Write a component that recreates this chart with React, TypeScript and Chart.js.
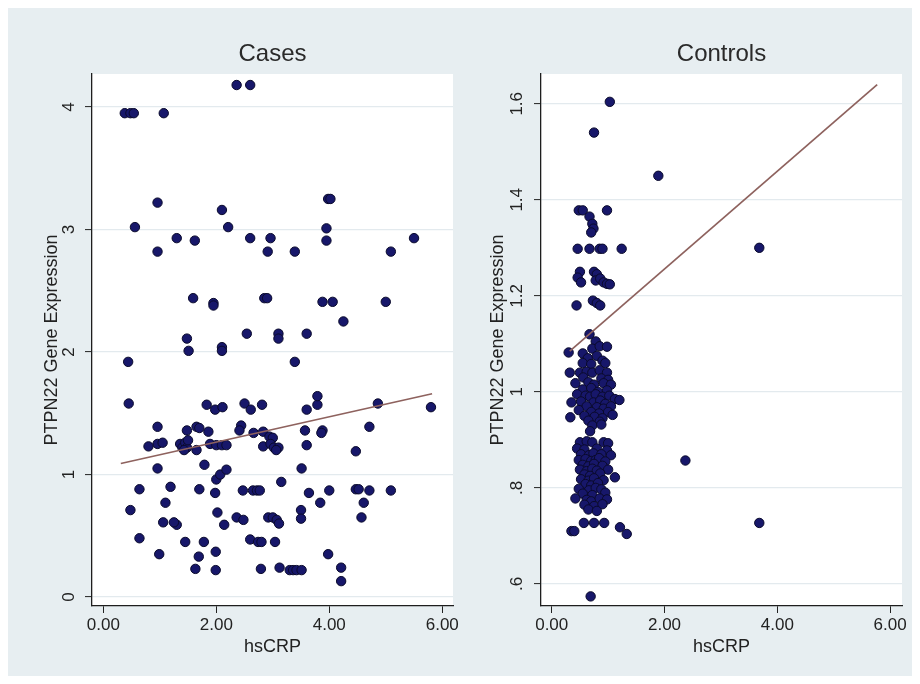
import React, { useEffect, useRef } from "react";
import { Chart, registerables } from "chart.js";

Chart.register(...registerables);

const FONT = "'Liberation Sans', Arial, Helvetica, sans-serif";

// ---------- DATA ----------
const xTickValues = [0, 2, 4, 6];
const casesYTicks = [0, 1, 2, 3, 4];
const controlsYTicks = [0.6, 0.8, 1.0, 1.2, 1.4, 1.6];

const casesX = [
  2.36, 2.6,
  0.38, 0.48, 0.54, 1.07,
  0.96, 0.56, 2.1, 2.21, 1.3, 1.62, 2.6, 2.96, 0.96, 2.91, 3.39,
  3.98, 4.02, 3.95, 3.95, 5.5, 5.09,
  1.59, 1.95, 1.95, 2.85, 2.9, 3.88, 4.06, 5.0, 4.25,
  1.48, 1.51, 2.1, 2.1, 2.54, 3.1, 3.1, 3.6,
  0.44, 3.39,
  0.45, 1.83, 1.98, 2.11, 2.5, 2.61, 2.81, 3.6, 3.79, 3.79, 4.86, 5.8,
  0.96, 1.48, 1.65, 1.7, 1.86, 2.44, 2.41, 2.66, 2.83, 2.94, 3.0, 3.57, 3.88, 3.86, 4.71,
  0.96, 1.05, 0.8, 1.36, 1.4, 1.45, 1.48, 1.5, 1.43, 1.65, 1.89, 2.0, 2.1, 2.18, 2.83, 2.96, 3.02, 3.1, 3.06, 3.6, 4.47,
  0.96, 1.79, 2.0, 2.07, 2.18, 3.51,
  0.64, 1.19, 1.7, 1.98, 2.47, 2.65, 2.72, 2.77, 3.15, 3.64, 4.0, 4.47, 4.52, 4.71, 5.09,
  3.84, 4.61, 0.48, 1.1, 3.5, 3.5, 4.57, 2.02,
  1.06, 1.3, 1.25, 2.14, 2.36, 2.48, 2.92, 3.0, 3.07, 3.11,
  0.64, 1.45, 1.78, 2.6, 2.74, 2.8, 3.04,
  0.99, 1.69, 1.99, 3.98,
  1.63, 1.99, 2.79, 3.12, 3.3, 3.36, 3.42, 3.51, 4.21, 4.21,
];
const casesY = [
  4.18, 4.18,
  3.95, 3.95, 3.95, 3.95,
  3.22, 3.02, 3.16, 3.02, 2.93, 2.91, 2.93, 2.93, 2.82, 2.82, 2.82,
  3.25, 3.25, 3.01, 2.91, 2.93, 2.82,
  2.44, 2.4, 2.38, 2.44, 2.44, 2.41, 2.41, 2.41, 2.25,
  2.11, 2.01, 2.04, 2.01, 2.15, 2.15, 2.11, 2.15,
  1.92, 1.92,
  1.58, 1.57, 1.53, 1.55, 1.58, 1.53, 1.57, 1.53, 1.57, 1.64, 1.58, 1.55,
  1.39, 1.36, 1.39, 1.38, 1.35, 1.4, 1.36, 1.34, 1.35, 1.31, 1.3, 1.36, 1.36, 1.34, 1.39,
  1.25, 1.26, 1.23, 1.25, 1.22, 1.26, 1.22, 1.28, 1.2, 1.2, 1.25, 1.24, 1.24, 1.24, 1.23, 1.25, 1.22, 1.22, 1.2, 1.24, 1.19,
  1.05, 1.08, 0.96, 1.0, 1.04, 1.05,
  0.88, 0.9, 0.88, 0.85, 0.87, 0.87, 0.87, 0.87, 0.94, 0.85, 0.87, 0.88, 0.88, 0.87, 0.87,
  0.77, 0.77, 0.71, 0.77, 0.71, 0.64, 0.65, 0.69,
  0.61, 0.59, 0.61, 0.59, 0.65, 0.63, 0.65, 0.65, 0.63, 0.6,
  0.48, 0.45, 0.45, 0.47, 0.45, 0.45, 0.45,
  0.35, 0.33, 0.37, 0.35,
  0.23, 0.22, 0.23, 0.24, 0.22, 0.22, 0.22, 0.22, 0.24, 0.13,
];

const controlsX = [
  1.03, 0.75, 1.89, 3.68, 2.37, 3.68, 0.69,
  0.48, 0.55, 0.98,
  0.67, 0.72, 0.74, 0.7,
  0.46, 0.67, 0.85, 0.9, 1.24,
  0.5, 0.46, 0.52, 0.75, 0.8, 0.78, 0.86, 0.92, 0.98, 1.03,
  0.44, 0.73, 0.8, 0.86,
  0.67, 0.78, 0.72, 0.85, 0.98,
  0.3, 0.55, 0.64, 0.8, 0.9,
  0.55, 0.7, 0.95,
  0.32, 0.5, 0.62, 0.72, 0.85, 0.98,
  0.56, 0.88, 1.0,
  0.42, 0.65, 0.75, 0.92, 1.05,
  0.55, 0.7, 0.82, 0.98,
  0.45, 0.6, 0.68, 0.78, 0.9, 1.02, 1.12,
  0.52, 0.74, 0.86, 0.95,
  0.35, 0.62, 0.8, 0.92, 1.05, 1.2,
  0.48, 0.7, 0.84, 1.0,
  0.58, 0.76, 0.9, 1.08,
  0.33, 0.65, 0.85,
  0.72, 0.88,
  0.68,
  0.5, 0.62, 0.72, 0.92, 1.0,
  0.45, 0.58, 0.8, 0.98,
  0.52, 0.66, 0.74, 0.88, 1.05,
  0.48, 0.6, 0.7, 0.78, 0.84, 0.95,
  0.55, 0.65, 0.75, 0.9,
  0.5, 0.62, 0.72, 0.8, 1.0,
  0.58, 0.68, 0.86,
  0.52, 0.65, 0.75, 0.92, 1.12,
  0.6, 0.7, 0.82,
  0.48, 0.66, 0.78, 0.88,
  0.55, 0.72, 0.95,
  0.42, 0.62, 0.7, 0.85, 0.98,
  0.58, 0.75, 0.9,
  0.65, 0.8,
  0.57, 0.75, 0.93,
  0.35, 0.4,
  1.21, 1.33,
];
const controlsY = [
  1.604, 1.54, 1.45, 1.3, 0.857, 0.727, 0.574,
  1.378, 1.378, 1.378,
  1.365, 1.35, 1.34, 1.332,
  1.298, 1.298, 1.298, 1.298, 1.298,
  1.25, 1.238, 1.228, 1.25, 1.245, 1.232, 1.236, 1.228, 1.225, 1.224,
  1.18, 1.19, 1.185, 1.18,
  1.12, 1.105, 1.09, 1.095, 1.094,
  1.082, 1.08, 1.07, 1.075, 1.065,
  1.06, 1.058, 1.06,
  1.04, 1.04, 1.042, 1.04, 1.045, 1.04,
  1.03, 1.028, 1.025,
  1.018, 1.02, 1.015, 1.018, 1.015,
  1.005, 1.008, 1.0, 1.003,
  0.995, 0.992, 0.99, 0.995, 0.99, 0.992, 0.985,
  0.98, 0.978, 0.982, 0.975,
  0.978, 0.97, 0.968, 0.965, 0.97, 0.983,
  0.962, 0.958, 0.955, 0.958,
  0.95, 0.948, 0.945, 0.952,
  0.947, 0.94, 0.938,
  0.93, 0.932,
  0.918,
  0.895, 0.897, 0.895, 0.895, 0.893,
  0.882, 0.88, 0.882, 0.878,
  0.87, 0.868, 0.872, 0.87, 0.868,
  0.858, 0.86, 0.856, 0.858, 0.862, 0.855,
  0.848, 0.845, 0.85, 0.846,
  0.838, 0.835, 0.84, 0.836, 0.838,
  0.828, 0.825, 0.83,
  0.818, 0.815, 0.82, 0.816, 0.822,
  0.808, 0.805, 0.81,
  0.798, 0.795, 0.8, 0.797,
  0.788, 0.785, 0.79,
  0.778, 0.775, 0.772, 0.778, 0.776,
  0.765, 0.762, 0.766,
  0.755, 0.752,
  0.727, 0.727, 0.727,
  0.71, 0.71,
  0.718, 0.704,
];

const casesFitX = [0.31, 5.82];
const casesFitY = [1.09, 1.66];
const controlsFitX = [0.32, 5.77];
const controlsFitY = [1.085, 1.64];

// ---------- RENDERING ----------
const decoPlugin = {
  id: "panelDeco",
  beforeDraw(chart: any, _args: any, opts: any) {
    const { ctx, chartArea: a } = chart;
    ctx.save();
    ctx.fillStyle = "#ffffff";
    ctx.fillRect(a.left, a.top, a.right - a.left, a.bottom - a.top);
    ctx.restore();
  },
  afterDraw(chart: any, _args: any, opts: any) {
    const { ctx, chartArea: a } = chart;
    ctx.save();
    ctx.font = `24px ${FONT}`;
    ctx.fillStyle = "#2a2a2a";
    ctx.textAlign = "center";
    ctx.textBaseline = "middle";
    ctx.fillText(opts.text, (a.left + a.right) / 2, opts.y);
    ctx.restore();
  },
};

type PanelProps = {
  title: string;
  xs: number[];
  ys: number[];
  fitX: number[];
  fitY: number[];
  xMin: number;
  xMax: number;
  yMin: number;
  yMax: number;
  yTicks: number[];
  yFormat: (v: number) => string;
  yWidth: number;
  yTickPad: number;
  yTitlePad: number;
  padRight: number;
};

function Panel(p: PanelProps) {
  const ref = useRef<HTMLCanvasElement | null>(null);
  useEffect(() => {
    if (!ref.current) return;
    const textColor = "#222222";
    const chart = new Chart(ref.current, {
      type: "scatter",
      data: {
        datasets: [
          {
            data: p.fitX.map((x, i) => ({ x, y: p.fitY[i] })),
            showLine: true,
            borderColor: "#8e625e",
            borderWidth: 1.7,
            pointRadius: 0,
            fill: false,
          } as any,
          {
            data: p.xs.map((x, i) => ({ x, y: p.ys[i] })),
            pointRadius: 4.7,
            pointHoverRadius: 4.7,
            backgroundColor: "#17176a",
            borderColor: "#0a0a2c",
            borderWidth: 1,
          },
        ],
      },
      options: {
        animation: false,
        responsive: false,
        devicePixelRatio: 1,
        layout: { padding: { left: 0, right: p.padRight, top: 66, bottom: 0 } },
        plugins: {
          legend: { display: false },
          tooltip: { enabled: false },
          panelDeco: { text: p.title, y: 46 },
        } as any,
        scales: {
          x: {
            type: "linear",
            min: p.xMin,
            max: p.xMax,
            afterBuildTicks: (s: any) => {
              s.ticks = xTickValues.map((v) => ({ value: v }));
            },
            afterFit: (s: any) => {
              s.height = 70;
              s.paddingLeft = 0;
              s.paddingRight = 0;
            },
            grid: {
              drawOnChartArea: false,
              drawTicks: true,
              tickLength: 7,
              tickColor: textColor,
              tickWidth: 1,
            },
            border: { display: true, color: "#1e1e1e", width: 1.3 },
            ticks: {
              autoSkip: false,
              maxRotation: 0,
              minRotation: 0,
              padding: 2,
              color: textColor,
              font: { family: FONT, size: 17 },
              callback: (v: any) => Number(v).toFixed(2),
            },
            title: {
              display: true,
              text: "hsCRP",
              color: textColor,
              font: { family: FONT, size: 18 },
              padding: { top: 0, bottom: 18.5 },
            },
          },
          y: {
            type: "linear",
            min: p.yMin,
            max: p.yMax,
            afterBuildTicks: (s: any) => {
              s.ticks = p.yTicks.map((v) => ({ value: v }));
            },
            afterFit: (s: any) => {
              s.width = p.yWidth;
              s.paddingTop = 0;
              s.paddingBottom = 0;
            },
            grid: {
              color: "#e3eaee",
              lineWidth: 1.2,
              drawTicks: true,
              tickLength: 7,
              tickColor: textColor,
              tickWidth: 1,
            },
            border: { display: true, color: "#1e1e1e", width: 1.3 },
            ticks: {
              autoSkip: false,
              minRotation: 90,
              maxRotation: 90,
              crossAlign: "center",
              padding: p.yTickPad,
              color: textColor,
              font: { family: FONT, size: 17 },
              callback: (v: any) => p.yFormat(Number(v)),
            },
            title: {
              display: true,
              text: "PTPN22 Gene Expression",
              color: textColor,
              font: { family: FONT, size: 18 },
              padding: { top: p.yTitlePad, bottom: 0 },
            },
          },
        },
      },
      plugins: [decoPlugin as any],
    });
    return () => chart.destroy();
  }, []);
  return <canvas ref={ref} width={452} height={668} style={{ display: "block", width: 452, height: 668 }} />;
}

const fmtInt = (v: number) => String(Math.round(v));
const fmtDec = (v: number) => {
  const r = Math.round(v * 10) / 10;
  return String(r).replace(/^0\./, ".");
};

export default function App() {
  return (
    <div style={{ width: 904, height: 668, background: "#e7eef1", display: "flex" }}>
      <Panel
        title="Cases"
        xs={casesX}
        ys={casesY}
        fitX={casesFitX}
        fitY={casesFitY}
        xMin={-0.2}
        xMax={6.19}
        yMin={-0.073}
        yMax={4.27}
        yTicks={casesYTicks}
        yFormat={fmtInt}
        yWidth={84}
        yTickPad={11}
        yTitlePad={33}
        padRight={7}
      />
      <Panel
        title="Controls"
        xs={controlsX}
        ys={controlsY}
        fitX={controlsFitX}
        fitY={controlsFitY}
        xMin={-0.19}
        xMax={6.21}
        yMin={0.554}
        yMax={1.662}
        yTicks={controlsYTicks}
        yFormat={fmtDec}
        yWidth={81}
        yTickPad={5}
        yTitlePad={27}
        padRight={10}
      />
    </div>
  );
}
